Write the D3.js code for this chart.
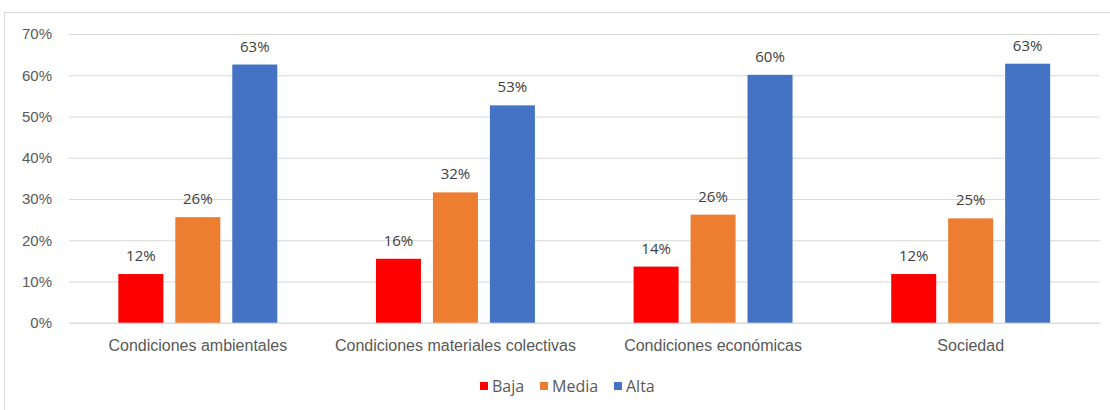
<!DOCTYPE html>
<html>
<head>
<meta charset="utf-8">
<script src="https://cdn.jsdelivr.net/npm/d3@7"></script>
<style>
  html, body { margin: 0; padding: 0; background: #fff; }
  svg { display: block; font-family: "Open Sans", "Noto Sans", sans-serif; }
</style>
</head>
<body>
<svg id="chart" width="1110" height="410"></svg>
<script>
// Categories and series
const categories = ["Condiciones ambientales", "Condiciones materiales colectivas", "Condiciones económicas", "Sociedad"];
const seriesNames = ["Baja", "Media", "Alta"];
const seriesColors = ["#FF0000", "#ED7D31", "#4472C4"];

// Share of responses per category, one array per series
const baja  = [0.118, 0.155, 0.136, 0.118];
const media = [0.256, 0.316, 0.262, 0.253];
const alta  = [0.626, 0.527, 0.601, 0.628];

const yTicks = [0, 0.1, 0.2, 0.3, 0.4, 0.5, 0.6, 0.7];

const seriesValues = [baja, media, alta];
const rows = categories.map((c, i) => ({
  category: c,
  values: seriesNames.map((s, j) => ({ series: s, value: seriesValues[j][i], color: seriesColors[j] }))
}));

const svg = d3.select("#chart");
const plot = { left: 69, right: 1099.5, top: 34, bottom: 322.7 };

// Outer frame
svg.append("rect")
  .attr("x", 4.5).attr("y", 12.5)
  .attr("width", 1110).attr("height", 410)
  .attr("fill", "none").attr("stroke", "#d9d9d9").attr("stroke-width", 1);

const y = d3.scaleLinear().domain([0, 0.7]).range([plot.bottom, plot.top]);

const x0 = d3.scaleBand()
  .domain(categories)
  .range([plot.left, plot.right])
  .paddingInner(0.383)
  .paddingOuter(0.1915);

const x1 = d3.scaleBand()
  .domain(seriesNames)
  .range([0, x0.bandwidth()])
  .paddingInner(0.21);

const pct = d3.format(".0%");

// Gridlines and y tick labels
const yAxis = d3.axisLeft(y)
  .tickValues(yTicks)
  .tickFormat(pct)
  .tickSize(-(plot.right - plot.left))
  .tickPadding(17);

const gy = svg.append("g")
  .attr("transform", `translate(${plot.left},0)`)
  .call(yAxis);
gy.select(".domain").remove();
gy.selectAll(".tick line").attr("stroke", "#d9d9d9").attr("stroke-width", 1);
gy.selectAll(".tick text")
  .attr("fill", "#595959")
  .style("font-size", "15px");

// Category axis
const xAxis = d3.axisBottom(x0).tickSize(0).tickPadding(17);
const gx = svg.append("g")
  .attr("transform", `translate(0,${plot.bottom})`)
  .call(xAxis);
gx.select(".domain").attr("stroke", "#d9d9d9");
gx.selectAll(".tick text")
  .attr("fill", "#595959")
  .style("font-size", "16px");

// Bars
const groups = svg.append("g").selectAll("g")
  .data(rows)
  .join("g")
  .attr("transform", d => `translate(${x0(d.category)},0)`);

groups.selectAll("rect")
  .data(d => d.values)
  .join("rect")
  .attr("x", d => x1(d.series))
  .attr("y", d => y(d.value))
  .attr("width", x1.bandwidth())
  .attr("height", d => y(0) - y(d.value))
  .attr("fill", d => d.color);

// Value labels
groups.selectAll("text.value")
  .data(d => d.values)
  .join("text")
  .attr("class", "value")
  .attr("x", d => x1(d.series) + x1.bandwidth() / 2)
  .attr("y", d => y(d.value) - 13)
  .attr("text-anchor", "middle")
  .attr("fill", "#404040")
  .style("font-size", "15px")
  .text(d => pct(d.value));

// Legend
const legendItems = [
  { name: seriesNames[0], color: seriesColors[0], x: 480 },
  { name: seriesNames[1], color: seriesColors[1], x: 540 },
  { name: seriesNames[2], color: seriesColors[2], x: 614 }
];
const legend = svg.append("g").attr("transform", "translate(0,386)");
const li = legend.selectAll("g").data(legendItems).join("g")
  .attr("transform", d => `translate(${d.x},0)`);
li.append("rect")
  .attr("x", 0).attr("y", -4)
  .attr("width", 8).attr("height", 8)
  .attr("fill", d => d.color);
li.append("text")
  .attr("x", 12).attr("y", 0)
  .attr("dy", "0.35em")
  .attr("fill", "#595959")
  .style("font-size", "16px")
  .text(d => d.name);
</script>
</body>
</html>
